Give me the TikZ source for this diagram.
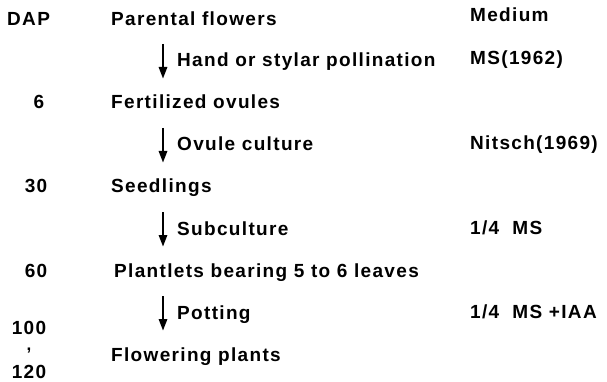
\documentclass[tikz,border=0pt]{standalone}
\usepackage{fontspec}
\newfontfamily\lab[LetterSpace=7]{Liberation Sans}
\usetikzlibrary{arrows.meta}
\begin{document}
\begin{tikzpicture}[x=1pt,y=-1pt,
  txt/.style={anchor=base west, inner sep=0pt, font=\lab\bfseries\fontsize{19}{22}\selectfont},
  num/.style={anchor=base, inner sep=0pt, font=\lab\bfseries\fontsize{19}{22}\selectfont},
  flow/.style={line width=2.8pt, -{Triangle[length=12pt,width=8pt]}}]
\useasboundingbox (0,0) rectangle (607,382);
% left column
\node[txt] (dap) at (7,26) {DAP};
\node[num] (d6) at (39,109) {6};
\node[num] (d30) at (36,193) {30};
\node[num] (d60) at (36,277) {60};
\node[num] (d100) at (29,334) {100};
\node[num, anchor=center, font=\lab\bfseries\fontsize{17}{17}\selectfont] (dtil) at (29,351) {,};
\node[num] (d120) at (29,378) {120};
% main column
\node[txt] (pf) at (111,26) {Parental flowers};
\node[txt] (fo) at (111,109) {Fertilized ovules};
\node[txt] (sd) at (111,193) {Seedlings};
\node[txt] (pl) at (114,277) {Plantlets bearing 5 to 6 leaves};
\node[txt] (fp) at (111,361) {Flowering plants};
% arrows
\coordinate (a1s) at (163,44); \coordinate (a1e) at (163,79);
\coordinate (a2s) at (163,128); \coordinate (a2e) at (163,163);
\coordinate (a3s) at (163,212); \coordinate (a3e) at (163,247);
\coordinate (a4s) at (163,296); \coordinate (a4e) at (163,331);
\draw[flow] (a1s) -- (a1e);
\draw[flow] (a2s) -- (a2e);
\draw[flow] (a3s) -- (a3e);
\draw[flow] (a4s) -- (a4e);
% step labels
\node[txt] (l1) at (177,67) {Hand or stylar pollination};
\node[txt] (l2) at (177,151) {Ovule culture};
\node[txt] (l3) at (177,235) {Subculture};
\node[txt] (l4) at (177,319) {Potting};
% medium column
\node[txt] (med) at (470,22) {Medium};
\node[txt] (m1) at (470,65) {MS(1962)};
\node[txt] (m2) at (470,150) {Nitsch(1969)};
\node[txt] (m3) at (470,234) {1/4\ \ MS};
\node[txt] (m4) at (470,318) {1/4\ \ MS\ +IAA};
\end{tikzpicture}
\end{document}
